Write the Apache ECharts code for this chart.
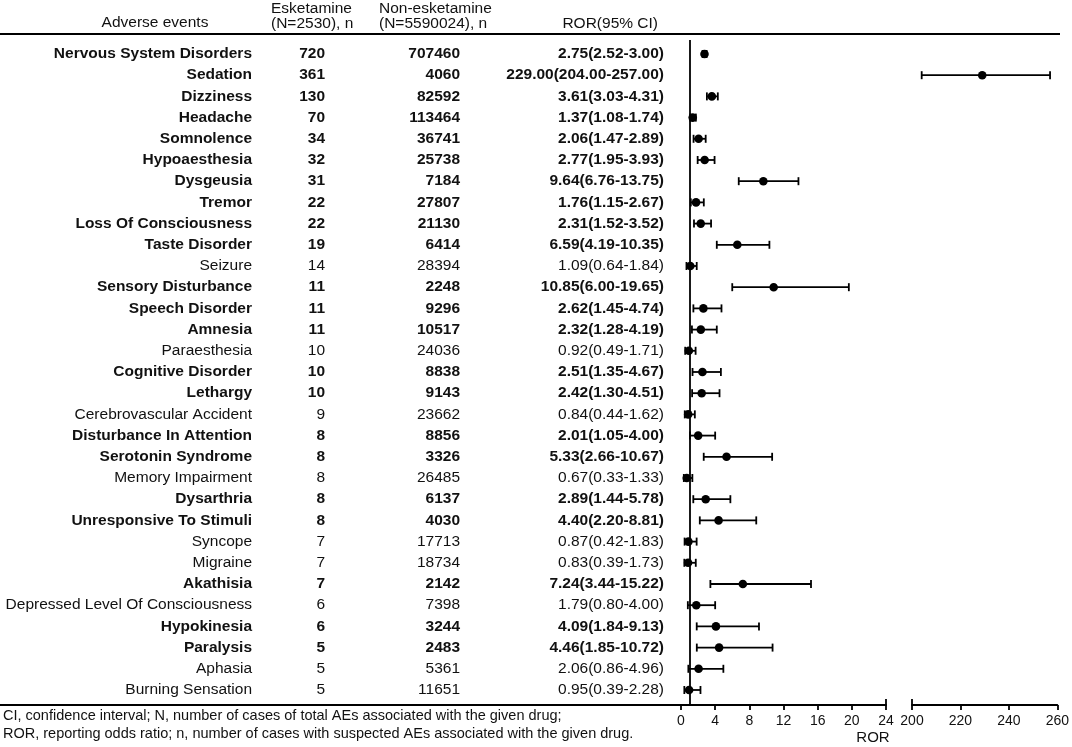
<!DOCTYPE html>
<html>
<head>
<meta charset="utf-8">
<script src="https://cdn.jsdelivr.net/npm/echarts@6/dist/echarts.min.js"></script>
<style>html,body{margin:0;padding:0;background:#fff;}#c{width:1072px;height:747px;}</style>
</head>
<body>
<div id="c"></div>
<script>
// ---- data ----
const categories = ["Nervous System Disorders","Sedation","Dizziness","Headache","Somnolence","Hypoaesthesia","Dysgeusia","Tremor","Loss Of Consciousness","Taste Disorder","Seizure","Sensory Disturbance","Speech Disorder","Amnesia","Paraesthesia","Cognitive Disorder","Lethargy","Cerebrovascular Accident","Disturbance In Attention","Serotonin Syndrome","Memory Impairment","Dysarthria","Unresponsive To Stimuli","Syncope","Migraine","Akathisia","Depressed Level Of Consciousness","Hypokinesia","Paralysis","Aphasia","Burning Sensation"];
const eskN = [720,361,130,70,34,32,31,22,22,19,14,11,11,11,10,10,10,9,8,8,8,8,8,7,7,7,6,6,5,5,5];
const nonN = [707460,4060,82592,113464,36741,25738,7184,27807,21130,6414,28394,2248,9296,10517,24036,8838,9143,23662,8856,3326,26485,6137,4030,17713,18734,2142,7398,3244,2483,5361,11651];
const rorVal = [2.75,229.00,3.61,1.37,2.06,2.77,9.64,1.76,2.31,6.59,1.09,10.85,2.62,2.32,0.92,2.51,2.42,0.84,2.01,5.33,0.67,2.89,4.40,0.87,0.83,7.24,1.79,4.09,4.46,2.06,0.95];
const ciLow = [2.52,204.00,3.03,1.08,1.47,1.95,6.76,1.15,1.52,4.19,0.64,6.00,1.45,1.28,0.49,1.35,1.30,0.44,1.05,2.66,0.33,1.44,2.20,0.42,0.39,3.44,0.80,1.84,1.85,0.86,0.39];
const ciHigh = [3.00,257.00,4.31,1.74,2.89,3.93,13.75,2.67,3.52,10.35,1.84,19.65,4.74,4.19,1.71,4.67,4.51,1.62,4.00,10.67,1.33,5.78,8.81,1.83,1.73,15.22,4.00,9.13,10.72,4.96,2.28];
const boldRow = [1,1,1,1,1,1,1,1,1,1,0,1,1,1,0,1,1,0,1,1,0,1,1,0,0,1,0,1,1,0,0];
const leftAxis = {min: 0, max: 24, interval: 4};
const rightAxis = {min: 200, max: 260, interval: 20};
const refValue = 1;

// ---- layout ----
const FONT = "'Liberation Sans', Arial, Helvetica, sans-serif";
const FS = 15.5;
const yMin = -0.66, yMax = 30.708;
const gridTop = 40, gridH = 665;
const colName = 252, colEsk = 325, colNon = 460, colRor = 664;

const rows = categories.map((c, i) => i);
const fmt = v => v.toFixed(2);

const tableData = rows.map(i => [i]);
const leftData = rows.filter(i => ciHigh[i] <= leftAxis.max).map(i => [i, rorVal[i], ciLow[i], ciHigh[i]]);
const rightData = rows.filter(i => ciLow[i] >= rightAxis.min).map(i => [i, rorVal[i], ciLow[i], ciHigh[i]]);

function forestItem(params, api) {
  const r = api.value(0);
  const pm = api.coord([api.value(1), r]);
  const pl = api.coord([api.value(2), r]);
  const ph = api.coord([api.value(3), r]);
  const st = {stroke: '#000', lineWidth: 1.8};
  return {type: 'group', children: [
    {type: 'line', shape: {x1: pl[0], y1: pm[1], x2: ph[0], y2: pm[1]}, style: st},
    {type: 'line', shape: {x1: pl[0], y1: pm[1] - 4, x2: pl[0], y2: pm[1] + 4}, style: st},
    {type: 'line', shape: {x1: ph[0], y1: pm[1] - 4, x2: ph[0], y2: pm[1] + 4}, style: st},
    {type: 'circle', shape: {cx: pm[0], cy: pm[1], r: 4.3}, style: {fill: '#000'}}
  ]};
}

function capItem(params, api) {
  const p = api.coord([api.value(0), yMax]);
  return {type: 'line', shape: {x1: p[0], y1: p[1] - 6, x2: p[0], y2: p[1]}, style: {stroke: '#000', lineWidth: 1.8}};
}

function tableItem(params, api) {
  const i = api.value(0);
  const y = api.coord([0, i])[1];
  const w = boldRow[i] ? 'bold' : 'normal';
  const mk = (x, t) => {
    const px = api.coord([x, i])[0];
    return {type: 'text', style: {x: px, y: y, text: t, align: 'right', verticalAlign: 'middle', fontSize: FS, fontFamily: FONT, fontWeight: w, fill: '#111'}};
  };
  return {type: 'group', children: [
    mk(colName, categories[i]),
    mk(colEsk, String(eskN[i])),
    mk(colNon, String(nonN[i])),
    mk(colRor, fmt(rorVal[i]) + '(' + fmt(ciLow[i]) + '-' + fmt(ciHigh[i]) + ')')
  ]};
}

const axisCommon = {
  type: 'value',
  position: 'bottom',
  axisLine: {show: true, onZero: false, lineStyle: {color: '#000', width: 1.8}},
  axisTick: {show: true, inside: false, length: 5, lineStyle: {color: '#000', width: 1.8}},
  axisLabel: {show: true, color: '#111', fontSize: 14, fontFamily: FONT, margin: 9},
  splitLine: {show: false}
};
const yCommon = {type: 'value', min: yMin, max: yMax, inverse: true, show: false};

const txt = (x, y, t, align, fs) => ({type: 'text', x: x, y: y, style: {text: t, align: align, verticalAlign: 'middle', fontSize: fs || FS, fontFamily: FONT, fill: '#111'}});

const option = {
  animation: false,
  backgroundColor: '#fff',
  grid: [
    {left: 681, width: 205, top: gridTop, height: gridH},
    {left: 912, width: 147, top: gridTop, height: gridH},
    {left: 0, width: 681, top: gridTop, height: gridH}
  ],
  xAxis: [
    Object.assign({}, axisCommon, {gridIndex: 0, min: leftAxis.min, max: leftAxis.max, interval: leftAxis.interval}),
    Object.assign({}, axisCommon, {gridIndex: 1, min: rightAxis.min, max: rightAxis.max, interval: rightAxis.interval}),
    {type: 'value', gridIndex: 2, position: 'bottom', min: 0, max: 681, axisLine: {show: true, onZero: false, lineStyle: {color: '#000', width: 1.8}}, axisTick: {show: false}, axisLabel: {show: false}, splitLine: {show: false}}
  ],
  yAxis: [
    Object.assign({}, yCommon, {gridIndex: 0}),
    Object.assign({}, yCommon, {gridIndex: 1}),
    Object.assign({}, yCommon, {gridIndex: 2})
  ],
  graphic: [
    {type: 'line', shape: {x1: 0, y1: 34, x2: 1060, y2: 34}, style: {stroke: '#000', lineWidth: 1.8}},
    txt(155, 23, 'Adverse events', 'center'),
    txt(271, 9, 'Esketamine', 'left'),
    txt(271, 24, '(N=2530), n', 'left'),
    txt(379, 9, 'Non-esketamine', 'left'),
    txt(379, 24, '(N=5590024), n', 'left'),
    txt(658, 24, 'ROR(95% CI)', 'right'),
    txt(3, 716, 'CI, confidence interval; N, number of cases of total AEs associated with the given drug;', 'left', 14.5),
    txt(3, 734, 'ROR, reporting odds ratio; n, number of cases with suspected AEs associated with the given drug.', 'left', 14.5),
    txt(873, 738, 'ROR', 'center', 15)
  ],
  series: [
    {type: 'custom', name: 'table', xAxisIndex: 2, yAxisIndex: 2, data: tableData, renderItem: tableItem, clip: false, silent: true, encode: {x: -1, y: 0}},
    {type: 'custom', name: 'forestL', xAxisIndex: 0, yAxisIndex: 0, data: leftData, renderItem: forestItem, clip: false, encode: {x: [1, 2, 3], y: 0},
      markLine: {silent: true, symbol: ['none', 'none'], label: {show: false}, lineStyle: {color: '#000', width: 1.8, type: 'solid'}, data: [{xAxis: refValue}]}},
    {type: 'custom', name: 'forestR', xAxisIndex: 1, yAxisIndex: 1, data: rightData, renderItem: forestItem, clip: false, encode: {x: [1, 2, 3], y: 0}},
    {type: 'custom', name: 'capL', xAxisIndex: 0, yAxisIndex: 0, data: [[leftAxis.max]], renderItem: capItem, clip: false, silent: true, encode: {x: 0}},
    {type: 'custom', name: 'capR', xAxisIndex: 1, yAxisIndex: 1, data: [[rightAxis.min]], renderItem: capItem, clip: false, silent: true, encode: {x: 0}}
  ]
};

const chart = echarts.init(document.getElementById('c'), null, {renderer: 'canvas'});
chart.setOption(option);
</script>
</body>
</html>
